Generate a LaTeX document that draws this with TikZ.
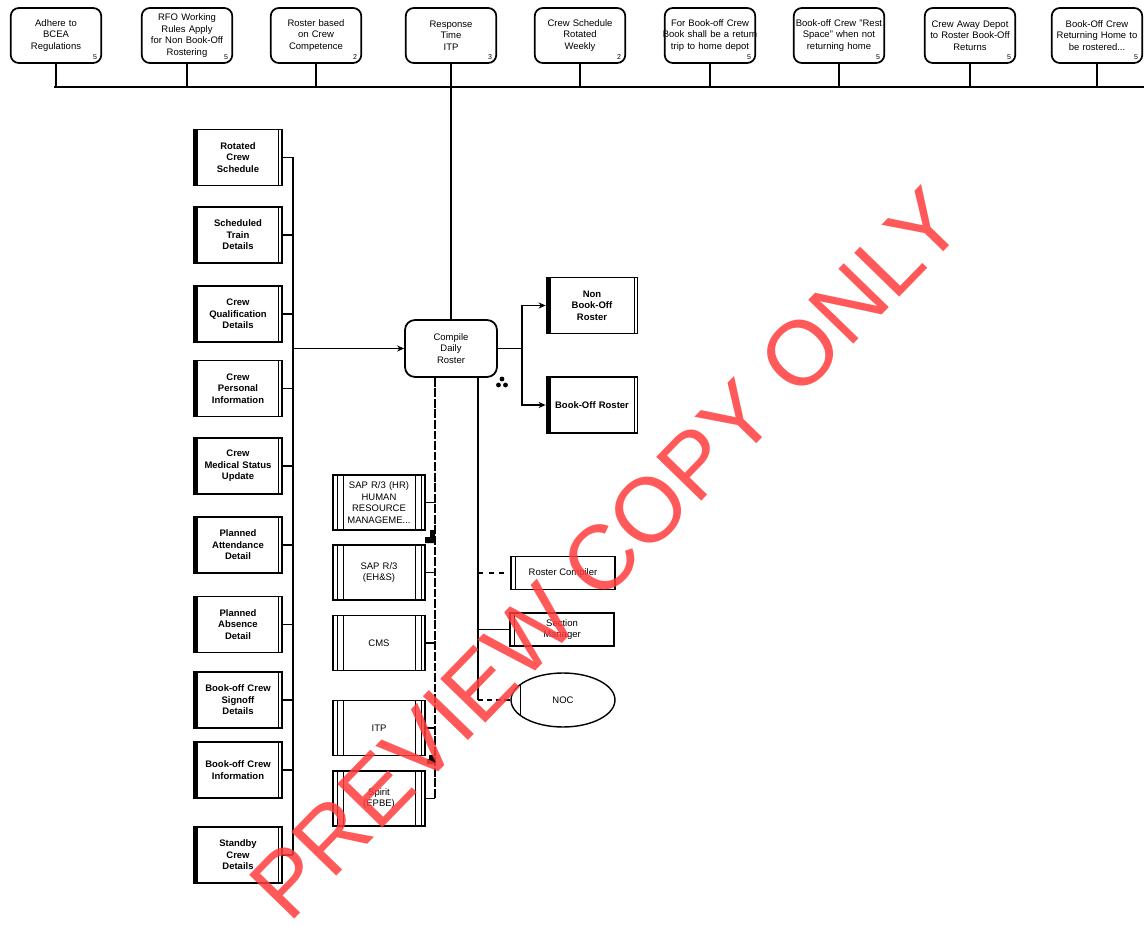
\documentclass[tikz,border=0pt]{standalone}
\usepackage{fontspec}
\setmainfont{Liberation Sans}
\usetikzlibrary{arrows.meta,shapes.geometric}
\newcommand{\fs}{\fontsize{5.4}{6.5}\selectfont}
\newcommand{\fsmall}{\fontsize{4}{4}\selectfont}
\newcommand{\wide}[1]{\makebox[\linewidth][c]{#1}}
\definecolor{wm}{RGB}{255,60,60}
\begin{document}
\begin{tikzpicture}[x=0.02cm,y=-0.02cm,
  topbox/.style={draw, line width=1pt, rounded corners=0.16cm, fill=white,
    minimum width=1.78cm, minimum height=1.1cm, text width=1.74cm, align=center,
    font=\fs, inner sep=1pt},
  cornermark/.style={font=\fsmall, inner sep=0pt},
  databox/.style={draw, line width=1pt, fill=white, minimum width=1.76cm,
    minimum height=1.12cm, text width=1.7cm, align=center, font=\fs\bfseries, inner sep=1pt,
    path picture={
      \fill[black] (path picture bounding box.north west) rectangle ([xshift=0.09cm]path picture bounding box.south west);
      \draw[line width=0.5pt] ([xshift=-0.07cm]path picture bounding box.north east) -- ([xshift=-0.07cm]path picture bounding box.south east);}},
  cmpbox/.style={draw, line width=1pt, rounded corners=0.2cm, fill=white,
    minimum width=1.84cm, minimum height=1.14cm, align=center, font=\fs},
  sysbox/.style={draw, line width=0.9pt, fill=white, minimum width=1.84cm,
    minimum height=1.1cm, text width=1.5cm, align=center, font=\fs, inner sep=1pt,
    path picture={
      \foreach \d in {0.08,0.2}{
      \draw[line width=0.5pt] ([xshift=\d cm]path picture bounding box.north west) -- ([xshift=\d cm]path picture bounding box.south west);
      \draw[line width=0.5pt] ([xshift=-\d cm]path picture bounding box.north east) -- ([xshift=-\d cm]path picture bounding box.south east);}}},
  rolebox/.style={draw, line width=0.9pt, fill=white, minimum width=2.08cm,
    minimum height=0.66cm, align=center, font=\fs,
    path picture={
      \draw[line width=0.5pt] ([xshift=0.08cm]path picture bounding box.north west) -- ([xshift=0.08cm]path picture bounding box.south west);}},
  roleell/.style={draw, ellipse, line width=0.8pt, fill=white, minimum width=2.08cm,
    minimum height=1.08cm, font=\fs,
    path picture={
      \draw[line width=0.5pt] ([xshift=0.18cm]path picture bounding box.north west) -- ([xshift=0.18cm]path picture bounding box.south west);}},
  conn/.style={line width=0.8pt},
  arr/.style={line width=0.8pt, -{Stealth[length=4pt,width=3.5pt]}}
]
\useasboundingbox[fill=white] (0,0) rectangle (1144,936);

% top row
\node[topbox] (t1) at (56,35.5) {Adhere to\\BCEA\\Regulations};
\node[topbox] (t2) at (187,35.5) {RFO Working\\Rules Apply\\for Non Book-Off\\Rostering};
\node[topbox] (t3) at (316,35.5) {Roster based\\on Crew\\Competence};
\node[topbox] (t4) at (451,35.5) {Response\\Time\\ITP};
\node[topbox] (t5) at (580,35.5) {Crew Schedule\\Rotated\\Weekly};
\node[topbox] (t6) at (710,35.5) {\wide{For Book-off Crew}\\\wide{Book shall be a return}\\\wide{trip to home depot}};
\node[topbox] (t7) at (839,35.5) {\wide{Book-off Crew "Rest}\\Space" when not\\returning home};
\node[topbox] (t8) at (970,35.5) {Crew Away Depot\\\wide{to Roster Book-Off}\\Returns};
\node[topbox] (t9) at (1097,35.5) {Book-Off Crew\\\wide{Returning Home to}\\be rostered...};

\foreach \t/\m in {t1/5,t2/5,t3/2,t4/3,t5/2,t6/5,t7/5,t8/5,t9/5}{
  \node[cornermark] (\t m) at ([shift={(-7,-7)}]\t.south east) {\m};
}

\coordinate (busL) at (54,87);
\coordinate (busR) at (1144,87);
\draw[conn] (busL) -- (busR);
\foreach \t in {t1,t2,t3,t5,t6,t7,t8,t9}{
  \draw[conn] (\t.south) -- (\t.south |- busL);
}

% central process
\node[cmpbox] (cmp) at (451,348.5) {Compile\\Daily\\Roster};
\draw[conn] (t4.south) -- (cmp.north);

% left data column
\node[databox] (d1) at (238,157.5) {Rotated\\Crew\\Schedule};
\node[databox] (d2) at (238,235) {Scheduled\\Train\\Details};
\node[databox] (d3) at (238,314) {Crew\\Qualification\\Details};
\node[databox] (d4) at (238,388.5) {Crew\\Personal\\Information};
\node[databox] (d5) at (238,466) {Crew\\Medical Status\\Update};
\node[databox] (d6) at (238,545) {Planned\\Attendance\\Detail};
\node[databox] (d7) at (238,624.5) {Planned\\Absence\\Detail};
\node[databox] (d8) at (238,700) {Book-off Crew\\Signoff\\Details};
\node[databox] (d9) at (238,770) {Book-off Crew\\Information};
\node[databox] (d10) at (238,855) {Standby\\Crew\\Details};

\coordinate (lbT) at (293,157.5);
\coordinate (lbB) at (293,855);
\draw[conn] (lbT) -- (lbB);
\foreach \d in {d1,d2,d3,d4,d5,d6,d7,d8,d9,d10}{
  \draw[conn] (\d.east) -- (\d.east -| lbT);
}
\draw[arr] (cmp.west -| lbT) -- (cmp.west);

% outputs
\node[databox, minimum width=1.82cm] (o1) at (592,305.5) {Non\\Book-Off\\Roster};
\node[databox, minimum width=1.82cm] (o2) at (592,405) {Book-Off Roster};
\coordinate (oj) at (522,348.5);
\draw[conn] (cmp.east) -- (oj);
\draw[arr] (oj) |- (o1.west);
\draw[arr] (oj) |- (o2.west);

% systems
\node[sysbox] (s1) at (379,502.5) {SAP R/3 (HR)\\HUMAN\\RESOURCE\\MANAGEME...};
\node[sysbox] (s2) at (379,572.5) {SAP R/3\\(EH\&S)};
\node[sysbox] (s3) at (379,643) {CMS};
\node[sysbox] (s4) at (379,728) {ITP};
\node[sysbox] (s5) at (379,798.5) {Spirit\\(EPBE)};

\coordinate (sbT) at ([xshift=-0.32cm]cmp.south);
\draw[conn, dash pattern=on 5pt off 1pt] (sbT) -- (sbT |- s5.east);
\foreach \s in {s1,s2,s3,s4,s5}{
  \draw[conn] (\s.east) -- (\s.east -| sbT);
}

% roles
\node[rolebox] (r1) at (563,573) {Roster Compiler};
\node[rolebox] (r2) at (562,629.5) {Section\\Manager};
\node[roleell] (noc) at (563,700) {NOC};

\coordinate (rbT) at ([xshift=0.54cm]cmp.south);
\draw[conn] (rbT) -- (rbT |- noc.west);
\draw[conn, dashed] (r1.west -| rbT) -- (r1.west);
\draw[conn] (r2.west -| rbT) -- (r2.west);
\draw[conn, densely dashed] (noc.west -| rbT) -- (noc.west);

% small markers
\fill (430,530) -- (435,530) -- (435,543) -- (425,543) -- (425,537) -- (430,537) -- cycle;
\fill (429,755) -- (434,755) -- (434,764) -- (427,764) -- (427,759) -- (429,759) -- cycle;
\fill (502,379) circle (2.4);
\fill (498.5,385) circle (2.4);
\fill (505.5,385) circle (2.4);

% watermark
\node[text=wm, fill opacity=0.85, text opacity=0.85, rotate=45.8, inner sep=0pt,
  font=\fontsize{52}{52}\selectfont] (wmk) at (606,554) {PREVIEW COPY ONLY};
\end{tikzpicture}
\end{document}
